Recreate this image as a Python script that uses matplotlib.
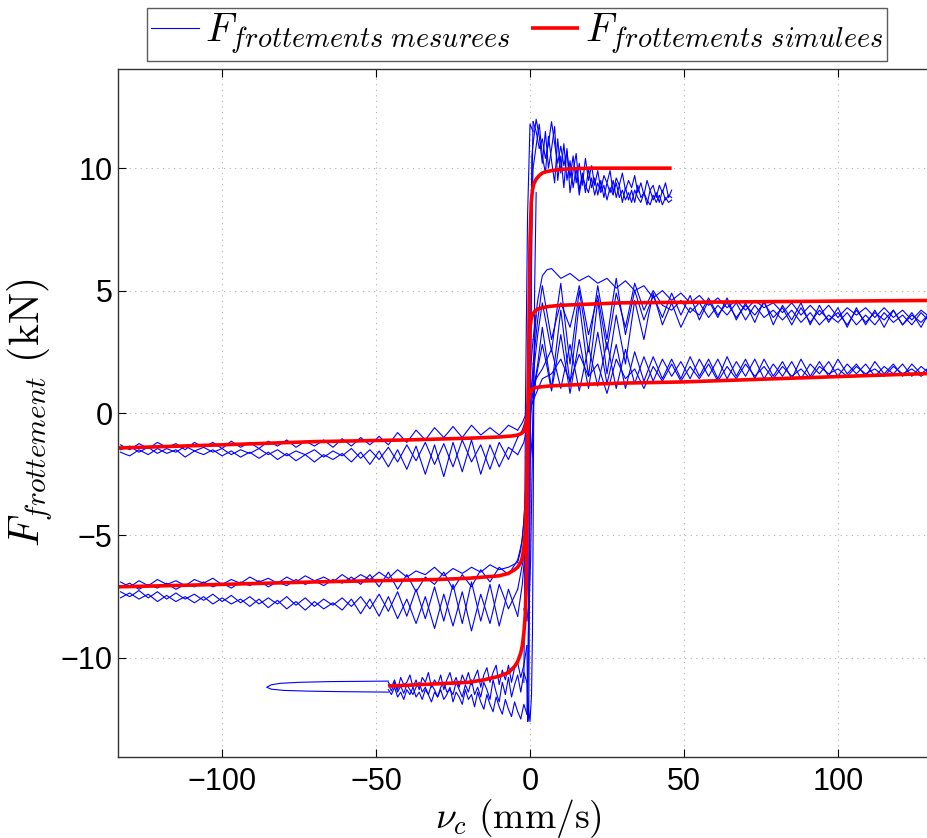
import matplotlib
matplotlib.use("Agg")
import matplotlib.pyplot as plt

plt.rcParams['mathtext.fontset'] = 'cm'
plt.rcParams['font.family'] = ['Liberation Sans', 'DejaVu Sans']

# --- simulated friction (red) ---
sim_x_hi = [-46, -40, -30, -20, -15, -10, -7, -5, -4, -3, -2.5, -2, -1.5, -1.2, -0.9, -0.6,
            -0.3, 0.0, 0.4, 0.8, 1.2, 2, 3, 4, 5, 7, 10, 15, 20, 30, 40, 46]
sim_y_hi = [-11.15, -11.12, -11.06, -11.0, -10.9, -10.75, -10.6, -10.35, -10.15, -9.8, -9.5,
            -9.0, -8.2, -7.0, -4.0, 0.0, 4.0, 7.0, 8.6, 9.1, 9.35, 9.55, 9.7, 9.8, 9.85, 9.9,
            9.95, 9.98, 10.0, 10.0, 10.0, 10.0]
sim_x_mid = [-134, -100, -70, -50, -30, -20, -10, -7, -5, -4, -3, -2.5, -2, -1.5, -1.2, -0.9,
             -0.6, -0.3, 0.0, 0.4, 0.8, 1.5, 2.5, 4, 6, 10, 20, 30, 50, 80, 110, 134]
sim_y_mid = [-7.1, -7.0, -6.9, -6.85, -6.8, -6.75, -6.65, -6.55, -6.4, -6.3, -6.1, -5.9, -5.5,
             -4.8, -3.5, -1.5, 0.5, 2.5, 3.5, 3.85, 4.0, 4.15, 4.25, 4.3, 4.35, 4.4, 4.45, 4.5,
             4.52, 4.55, 4.58, 4.6]
sim_x_low = [-134, -100, -70, -40, -20, -10, -6, -4, -3, -2, -1.5, -1.2, -0.9, -0.6, -0.3,
             0.0, 0.4, 0.8, 1.5, 3, 6, 10, 20, 30, 50, 80, 110, 134]
sim_y_low = [-1.43, -1.3, -1.17, -1.1, -1.03, -0.98, -0.94, -0.9, -0.85, -0.75, -0.6, -0.4,
             -0.1, 0.3, 0.6, 0.8, 0.92, 0.98, 1.03, 1.06, 1.1, 1.13, 1.18, 1.22, 1.27, 1.4,
             1.53, 1.63]

# --- measured friction (blue) ---
# negative velocity, low and mid amplitude tests
neg_x = [-133, -131.5, -130, -128.5, -127, -125.5, -124, -122.5, -121, -119.5, -118, -116.5,
         -115, -113.5, -112, -110.5, -109, -107.5, -106, -104.5, -103, -101.5, -100, -98.5,
         -97, -95.5, -94, -92.5, -91, -89.5, -88, -86.5, -85, -83.5, -82, -80.5, -79, -77.5,
         -76, -74.5, -73, -71.5, -70, -68.5, -67, -65.5, -64, -62.5, -61, -59.5, -58, -56.5,
         -55, -53.5, -52, -50.5, -49, -47.5, -46, -44.5, -43, -41.5, -40, -38.5, -37, -35.5,
         -34, -32.5, -31, -29.5, -28, -26.5, -25, -23.5, -22, -20.5, -19, -17.5, -16, -14.5,
         -13, -11.5, -10, -8.5, -7, -5.5, -4]
neg_low_1 = [-1.3, -1.4, -1.5, -1.38, -1.25, -1.35, -1.45, -1.33, -1.2, -1.3, -1.4, -1.33,
             -1.25, -1.38, -1.5, -1.35, -1.2, -1.3, -1.4, -1.3, -1.2, -1.33, -1.45, -1.3,
             -1.15, -1.28, -1.4, -1.3, -1.2, -1.33, -1.45, -1.3, -1.15, -1.25, -1.35, -1.23,
             -1.1, -1.25, -1.4, -1.28, -1.15, -1.25, -1.35, -1.23, -1.1, -1.25, -1.4, -1.23,
             -1.05, -1.2, -1.35, -1.18, -1.0, -1.15, -1.3, -1.13, -0.95, -1.13, -1.3, -1.05,
             -0.8, -1.0, -1.2, -0.95, -0.7, -0.9, -1.1, -0.85, -0.6, -0.8, -1.0, -0.78,
             -0.55, -0.78, -1.0, -0.75, -0.5, -0.7, -0.9, -0.75, -0.6, -0.75, -0.9, -0.7,
             -0.5, -0.6, -0.7]
neg_low_2 = [-1.5, -1.43, -1.35, -1.48, -1.6, -1.5, -1.4, -1.53, -1.65, -1.55, -1.45, -1.53,
             -1.6, -1.48, -1.35, -1.45, -1.55, -1.48, -1.4, -1.5, -1.6, -1.53, -1.45, -1.58,
             -1.7, -1.6, -1.5, -1.58, -1.65, -1.55, -1.45, -1.58, -1.7, -1.6, -1.5, -1.63,
             -1.75, -1.65, -1.55, -1.63, -1.7, -1.6, -1.5, -1.65, -1.8, -1.68, -1.55, -1.65,
             -1.75, -1.6, -1.45, -1.65, -1.85, -1.68, -1.5, -1.7, -1.9, -1.65, -1.4, -1.7,
             -2.0, -1.65, -1.3, -1.63, -1.95, -1.58, -1.2, -1.65, -2.1, -1.68, -1.25, -1.73,
             -2.2, -1.65, -1.1, -1.55, -2.0, -1.65, -1.3, -1.8, -2.3, -1.75, -1.2, -1.55,
             -1.9, -1.45, -1.0]
neg_low_3 = [-1.6, -1.68, -1.75, -1.63, -1.5, -1.6, -1.7, -1.58, -1.45, -1.55, -1.65, -1.58,
             -1.5, -1.65, -1.8, -1.68, -1.55, -1.63, -1.7, -1.6, -1.5, -1.63, -1.75, -1.65,
             -1.55, -1.68, -1.8, -1.7, -1.6, -1.73, -1.85, -1.73, -1.6, -1.75, -1.9, -1.78,
             -1.65, -1.8, -1.95, -1.83, -1.7, -1.85, -2.0, -1.85, -1.7, -1.8, -1.9, -1.78,
             -1.65, -1.83, -2.0, -1.8, -1.6, -1.85, -2.1, -1.83, -1.55, -1.88, -2.2, -1.85,
             -1.5, -1.9, -2.3, -1.83, -1.35, -1.93, -2.5, -1.9, -1.3, -1.95, -2.6, -1.9,
             -1.2, -1.8, -2.4, -1.75, -1.1, -1.8, -2.5, -1.9, -1.3, -1.75, -2.2, -1.8,
             -1.4, -1.55, -1.7]
neg_mid_1 = [-6.9, -7.0, -7.1, -6.98, -6.85, -6.95, -7.05, -6.93, -6.8, -6.9, -7.0, -6.93,
             -6.85, -6.95, -7.05, -6.93, -6.8, -6.88, -6.95, -6.85, -6.75, -6.88, -7.0, -6.9,
             -6.8, -6.88, -6.95, -6.83, -6.7, -6.8, -6.9, -6.83, -6.75, -6.85, -6.95, -6.83,
             -6.7, -6.8, -6.9, -6.78, -6.65, -6.75, -6.85, -6.78, -6.7, -6.8, -6.9, -6.75,
             -6.6, -6.73, -6.85, -6.73, -6.6, -6.7, -6.8, -6.65, -6.5, -6.63, -6.75, -6.58,
             -6.4, -6.55, -6.7, -6.58, -6.45, -6.53, -6.6, -6.45, -6.3, -6.48, -6.65, -6.5,
             -6.35, -6.45, -6.55, -6.43, -6.3, -6.4, -6.5, -6.35, -6.2, -6.3, -6.4, -6.35,
             -6.3, -6.2, -6.1]
neg_mid_2 = [-7.1, -7.03, -6.95, -7.08, -7.2, -7.1, -7.0, -7.08, -7.15, -7.05, -6.95, -7.08,
             -7.2, -7.1, -7.0, -7.05, -7.1, -7.0, -6.9, -7.0, -7.1, -7.03, -6.95, -7.05,
             -7.15, -7.03, -6.9, -6.98, -7.05, -6.95, -6.85, -6.98, -7.1, -7.0, -6.9, -6.98,
             -7.05, -6.93, -6.8, -6.9, -7.0, -6.93, -6.85, -6.95, -7.05, -6.93, -6.8, -6.88,
             -6.95, -6.83, -6.7, -6.85, -7.0, -6.8, -6.6, -6.85, -7.1, -6.8, -6.5, -6.85,
             -7.2, -6.9, -6.6, -6.95, -7.3, -7.0, -6.7, -6.85, -7.0, -6.75, -6.5, -6.85,
             -7.2, -6.9, -6.6, -6.85, -7.1, -6.75, -6.4, -6.65, -6.9, -6.6, -6.3, -6.45,
             -6.6, -6.3, -6.0]
neg_mid_3 = [-7.3, -7.4, -7.5, -7.38, -7.25, -7.4, -7.55, -7.43, -7.3, -7.45, -7.6, -7.48,
             -7.35, -7.48, -7.6, -7.5, -7.4, -7.53, -7.65, -7.53, -7.4, -7.55, -7.7, -7.58,
             -7.45, -7.6, -7.75, -7.63, -7.5, -7.65, -7.8, -7.68, -7.55, -7.68, -7.8, -7.65,
             -7.5, -7.68, -7.85, -7.7, -7.55, -7.73, -7.9, -7.75, -7.6, -7.73, -7.85, -7.7,
             -7.55, -7.73, -7.9, -7.7, -7.5, -7.75, -8.0, -7.7, -7.4, -7.75, -8.1, -7.7,
             -7.3, -7.8, -8.3, -7.75, -7.2, -7.8, -8.4, -7.75, -7.1, -7.8, -8.5, -7.75,
             -7.0, -7.8, -8.6, -7.75, -6.9, -7.7, -8.5, -7.75, -7.0, -7.85, -8.7, -7.95,
             -7.2, -7.75, -8.3]
neg_mid_4 = [-7.55, -7.45, -7.35, -7.48, -7.6, -7.5, -7.4, -7.55, -7.7, -7.58, -7.45, -7.58,
             -7.7, -7.6, -7.5, -7.63, -7.75, -7.63, -7.5, -7.65, -7.8, -7.68, -7.55, -7.68,
             -7.8, -7.7, -7.6, -7.75, -7.9, -7.75, -7.6, -7.78, -7.95, -7.8, -7.65, -7.83,
             -8.0, -7.85, -7.7, -7.88, -8.05, -7.88, -7.7, -7.85, -8.0, -7.88, -7.75, -7.9,
             -8.05, -7.83, -7.6, -7.9, -8.2, -7.9, -7.6, -7.95, -8.3, -7.9, -7.5, -7.95,
             -8.4, -8.0, -7.6, -8.1, -8.6, -8.05, -7.5, -8.15, -8.8, -8.1, -7.4, -8.05,
             -8.7, -8.0, -7.3, -8.1, -8.9, -8.15, -7.4, -8.0, -8.6, -7.8, -7.0, -7.5,
             -8.0, -7.6, -7.2]

# positive velocity, low and mid amplitude tests
pos_x = [1, 2.5, 4, 5.5, 7, 8.5, 10, 11.5, 13, 14.5, 16, 17.5, 19, 20.5, 22, 23.5, 25, 26.5,
         28, 29.5, 31, 32.5, 34, 35.5, 37, 38.5, 40, 41.5, 43, 44.5, 46, 47.5, 49, 50.5, 52,
         53.5, 55, 56.5, 58, 59.5, 61, 62.5, 64, 65.5, 67, 68.5, 70, 71.5, 73, 74.5, 76,
         77.5, 79, 80.5, 82, 83.5, 85, 86.5, 88, 89.5, 91, 92.5, 94, 95.5, 97, 98.5, 100,
         101.5, 103, 104.5, 106, 107.5, 109, 110.5, 112, 113.5, 115, 116.5, 118, 119.5, 121,
         122.5, 124, 125.5, 127, 128.5, 130, 131.5, 133]
pos_mid_1 = [3.0, 4.6, 5.6, 5.85, 5.9, 5.7, 5.5, 5.6, 5.7, 5.55, 5.4, 5.5, 5.6, 5.45, 5.3,
             5.4, 5.5, 5.3, 5.1, 5.25, 5.4, 5.2, 5.0, 5.1, 5.2, 4.95, 4.7, 4.85, 5.0, 4.8,
             4.6, 4.75, 4.9, 4.7, 4.5, 4.65, 4.8, 4.6, 4.4, 4.55, 4.7, 4.5, 4.3, 4.45, 4.6,
             4.4, 4.2, 4.4, 4.6, 4.45, 4.3, 4.4, 4.5, 4.3, 4.1, 4.3, 4.5, 4.25, 4.0, 4.2, 4.4,
             4.2, 4.0, 4.2, 4.4, 4.15, 3.9, 4.1, 4.3, 4.15, 4.0, 4.15, 4.3, 4.1, 3.9, 4.1,
             4.3, 4.1, 3.9, 4.05, 4.2, 4.0, 3.8, 4.0, 4.2, 4.05, 3.9, 4.0, 4.1]
pos_mid_2 = [1.5, 3.2, 4.5, 3.5, 2.5, 4.0, 5.3, 3.6, 2.0, 3.5, 5.0, 3.8, 2.5, 3.9, 5.2, 4.1,
             3.0, 4.3, 5.5, 4.3, 3.2, 4.1, 5.0, 4.4, 3.8, 4.3, 4.8, 4.35, 3.9, 4.4, 4.9, 4.45,
             4.0, 4.4, 4.8, 4.3, 3.8, 4.2, 4.6, 4.25, 3.9, 4.3, 4.7, 4.25, 3.8, 4.15, 4.5,
             4.1, 3.7, 4.15, 4.6, 4.1, 3.6, 4.0, 4.4, 4.1, 3.8, 4.15, 4.5, 4.05, 3.6, 4.0,
             4.4, 4.05, 3.7, 4.0, 4.3, 3.9, 3.5, 3.9, 4.3, 3.95, 3.6, 3.9, 4.2, 3.85, 3.5,
             3.85, 4.2, 3.9, 3.6, 3.85, 4.1, 3.8, 3.5, 3.85, 4.2, 3.95, 3.7]
pos_mid_3 = [0.8, 2.0, 3.5, 2.2, 1.0, 2.6, 4.2, 2.7, 1.2, 2.8, 4.5, 3.0, 1.5, 3.0, 4.6, 3.1,
             1.6, 2.8, 4.0, 3.0, 2.0, 3.3, 4.6, 3.8, 3.0, 4.0, 4.9, 4.25, 3.6, 4.05, 4.5,
             4.0, 3.5, 3.9, 4.3, 4.15, 4.0, 4.35, 4.7, 4.35, 4.0, 4.25, 4.5, 4.2, 3.9, 4.15,
             4.4, 4.2, 4.0, 4.25, 4.5, 4.2, 3.9, 4.1, 4.3, 3.95, 3.6, 3.95, 4.3, 4.0, 3.7,
             3.95, 4.2, 4.0, 3.8, 3.95, 4.1, 3.85, 3.6, 3.9, 4.2, 3.95, 3.7, 3.9, 4.1, 3.95,
             3.8, 4.0, 4.2, 3.9, 3.6, 3.8, 4.0, 3.85, 3.7, 3.9, 4.1, 3.85, 3.6]
pos_mid_4 = [2.0, 3.8, 5.2, 4.1, 3.0, 3.8, 4.5, 4.0, 3.5, 4.3, 5.2, 4.2, 3.2, 4.0, 4.8, 3.7,
             2.6, 3.7, 4.9, 4.2, 3.5, 4.4, 5.3, 4.75, 4.2, 4.6, 5.0, 4.7, 4.4, 4.3, 4.2, 4.4,
             4.6, 4.35, 4.1, 4.3, 4.5, 4.2, 3.9, 4.15, 4.4, 4.2, 4.0, 4.25, 4.5, 4.15, 3.8,
             4.1, 4.4, 4.15, 3.9, 4.05, 4.2, 4.0, 3.8, 4.0, 4.2, 3.95, 3.7, 3.9, 4.1, 3.85,
             3.6, 3.8, 4.0, 3.85, 3.7, 3.9, 4.1, 3.85, 3.6, 3.8, 4.0, 3.8, 3.6, 3.85, 4.1,
             3.9, 3.7, 3.85, 4.0, 3.8, 3.6, 3.85, 4.1, 3.9, 3.7, 3.8, 3.9]
pos_low_1 = [0.8, 1.8, 2.8, 1.9, 0.9, 2.0, 3.2, 2.0, 0.8, 1.9, 3.0, 2.0, 1.0, 2.2, 3.3, 2.25,
             1.2, 2.0, 2.8, 1.9, 1.0, 1.75, 2.5, 1.9, 1.3, 1.8, 2.3, 1.85, 1.4, 1.8, 2.2,
             1.8, 1.4, 1.85, 2.3, 1.9, 1.5, 1.85, 2.2, 1.8, 1.4, 1.85, 2.3, 1.9, 1.5, 1.85,
             2.2, 1.8, 1.4, 1.8, 2.2, 1.85, 1.5, 1.8, 2.1, 1.75, 1.4, 1.8, 2.2, 1.85, 1.5,
             1.8, 2.1, 1.8, 1.5, 1.85, 2.2, 1.9, 1.6, 1.8, 2.0, 1.75, 1.5, 1.8, 2.1, 1.85,
             1.6, 1.8, 2.0, 1.75, 1.5, 1.75, 2.0, 1.8, 1.6, 1.75, 1.9, 1.8, 1.7]
pos_low_2 = [1.2, 1.5, 1.8, 2.2, 2.6, 1.8, 1.0, 1.9, 2.8, 1.85, 0.9, 1.8, 2.7, 1.9, 1.1, 2.0,
             2.9, 1.95, 1.0, 1.8, 2.6, 1.9, 1.2, 1.75, 2.3, 1.8, 1.3, 1.75, 2.2, 1.85, 1.5,
             1.8, 2.1, 1.75, 1.4, 1.8, 2.2, 1.85, 1.5, 1.85, 2.2, 1.8, 1.4, 1.75, 2.1, 1.8,
             1.5, 1.85, 2.2, 1.8, 1.4, 1.7, 2.0, 1.75, 1.5, 1.8, 2.1, 1.75, 1.4, 1.7, 2.0,
             1.8, 1.6, 1.85, 2.1, 1.8, 1.5, 1.75, 2.0, 1.8, 1.6, 1.8, 2.0, 1.75, 1.5, 1.7,
             1.9, 1.75, 1.6, 1.8, 2.0, 1.75, 1.5, 1.7, 1.9, 1.75, 1.6, 1.7, 1.8]
pos_low_3 = [0.5, 0.95, 1.4, 1.5, 1.6, 1.9, 2.2, 1.75, 1.3, 1.85, 2.4, 1.95, 1.5, 1.75, 2.0,
             1.4, 0.8, 1.5, 2.2, 1.8, 1.4, 1.6, 1.8, 1.4, 1.0, 1.45, 1.9, 1.6, 1.3, 1.65, 2.0,
             1.65, 1.3, 1.6, 1.9, 1.65, 1.4, 1.7, 2.0, 1.65, 1.3, 1.6, 1.9, 1.65, 1.4, 1.7,
             2.0, 1.75, 1.5, 1.7, 1.9, 1.65, 1.4, 1.65, 1.9, 1.7, 1.5, 1.65, 1.8, 1.6, 1.4,
             1.65, 1.9, 1.75, 1.6, 1.7, 1.8, 1.65, 1.5, 1.7, 1.9, 1.75, 1.6, 1.7, 1.8, 1.65,
             1.5, 1.7, 1.9, 1.75, 1.6, 1.7, 1.8, 1.65, 1.5, 1.65, 1.8, 1.7, 1.6]

# high amplitude test, negative branch
hi_neg_x = [-46, -45, -44, -43, -42, -41, -40, -39, -38, -37, -36, -35, -34, -33, -32, -31,
            -30, -29, -28, -27, -26, -25, -24, -23, -22, -21, -20, -19, -18, -17, -16, -15,
            -14, -13, -12, -11, -10, -9, -8, -7, -6, -5, -4, -3, -2, -1]
hi_neg_1 = [-11.0, -11.2, -10.9, -11.3, -10.8, -11.1, -11.0, -10.7, -11.2, -10.9,
            -11.3, -10.8, -11.0, -10.6, -11.2, -10.9, -11.1, -10.7, -11.3, -10.9,
            -10.6, -11.1, -10.8, -11.2, -10.7, -11.0, -10.6, -11.1, -10.8, -10.5,
            -11.2, -10.7, -10.4, -11.0, -10.6, -10.3, -11.1, -10.5, -10.9, -10.3,
            -11.0, -10.4, -10.2, -10.8, -10.3, -9.5]
hi_neg_2 = [-11.3, -11.5, -11.2, -11.6, -11.4, -11.7, -11.3, -11.5, -11.2, -11.6,
            -11.4, -11.7, -11.3, -11.5, -11.8, -11.4, -11.6, -11.3, -11.7, -11.5,
            -11.2, -11.8, -11.4, -11.6, -11.9, -11.3, -11.7, -11.5, -12.0, -11.4,
            -11.8, -12.1, -11.5, -11.9, -12.2, -11.6, -12.0, -12.3, -11.7, -12.1,
            -12.4, -11.8, -12.2, -12.5, -11.9, -12.3]
hi_neg_3 = [-11.1, -11.35, -11.0, -11.4, -11.15, -11.45, -11.1, -11.3, -11.5, -11.2,
            -11.0, -11.4, -11.2, -11.5, -11.1, -11.3, -11.6, -11.2, -11.0, -11.4,
            -11.3, -11.5, -11.0, -11.3, -11.6, -11.1, -11.4, -10.9, -11.5, -11.2,
            -11.6, -11.0, -11.3, -11.7, -10.9, -11.4, -11.8, -11.0, -11.5, -10.8,
            -11.6, -11.1, -10.7, -11.4, -10.6, -11.0]
# thin loop at the start of the high amplitude test
loop_x = [-46, -55, -65, -75, -81, -84, -85.5, -84, -80, -72, -62, -54, -46]
loop_y = [-10.95, -10.96, -10.97, -11.0, -11.04, -11.1, -11.2, -11.28, -11.33, -11.36,
          -11.38, -11.39, -11.4]

# high amplitude test, positive branch
hi_pos_x = [1, 2, 3, 4, 5, 6, 7, 8, 9, 10, 11, 12, 13, 14, 15, 16, 17, 18, 19, 20, 21, 22,
            23, 24, 25, 26, 27, 28, 29, 30, 31, 32, 33, 34, 35, 36, 37, 38, 39, 40, 41, 42,
            43, 44, 45, 46]
hi_pos_1 = [11.9, 11.5, 10.8, 11.2, 10.4, 11.0, 11.9, 11.0, 10.2, 10.9,
            10.1, 10.7, 9.6, 10.5, 9.4, 10.2, 9.3, 10.4, 9.5, 10.1,
            9.3, 9.9, 9.1, 9.7, 9.4, 9.9, 9.0, 9.6, 9.3, 9.8,
            9.1, 9.5, 9.2, 9.7, 9.0, 9.4, 8.9, 9.5, 9.1, 9.3,
            8.8, 9.3, 9.0, 9.4, 8.8, 9.1]
hi_pos_2 = [11.0, 12.0, 11.3, 10.2, 11.5, 10.0, 10.8, 11.7, 9.5, 10.5,
            9.2, 10.8, 9.0, 9.9, 10.6, 9.1, 9.8, 9.0, 10.0, 9.2,
            9.6, 8.9, 9.5, 8.8, 9.4, 9.0, 9.5, 8.8, 9.3, 8.6,
            9.2, 8.7, 9.1, 8.6, 9.3, 8.8, 9.0, 8.5, 9.1, 8.7,
            9.0, 8.6, 9.1, 8.7, 8.9, 8.8]
hi_pos_3 = [10.0, 10.9, 11.8, 10.5, 9.8, 11.3, 10.3, 9.4, 11.2, 9.8,
            11.0, 9.5, 10.3, 9.2, 10.0, 8.9, 9.7, 9.3, 9.0, 9.6,
            8.9, 9.4, 9.0, 9.3, 8.7, 9.2, 8.9, 9.4, 8.8, 9.1,
            8.7, 9.0, 8.6, 9.1, 8.8, 8.6, 9.0, 8.7, 8.5, 8.9,
            8.6, 8.9, 8.5, 8.8, 8.6, 8.7]

# sticking transitions around zero velocity
jump_x = [
    [-4, -3, -2, -1.2, -0.5, 0.3, 1.0],
    [-4, -2.5, -1.5, -0.8, 0.0, 0.6, 1.0],
    [-4, -2.5, -1.2, -0.3, 0.3, 0.7, 1.0],
    [-4, -2.2, -1.0, 0.0, 0.5, 1.0],
    [-4, -2.5, -1.5, -0.5, 0.2, 1.0],
    [-4, -2.5, -1.2, 0.0, 1.0],
    [-4, -2.0, -0.8, 0.2, 1.0],
    [-1, -0.7, -0.4, -0.1, 0.2, 0.6, 1.0],
    [-1, -0.6, -0.2, 0.2, 0.6, 1.0],
    [-1, -0.8, -0.4, 0.0, 0.4, 0.8, 1.0],
    [1.0, 0.0, -0.8, -1.5, -1.8, -2.0],
    [2.0, 1.5, 1.0, 0.6, 0.2, -0.2, -1.0, -2.0],
    [2.0, 1.2, 0.8, 0.4, 0.0, -0.5, -1.5],
    [2.0, 1.5, 1.2, 1.0, 0.8, 0.5, 0.0, -0.5],
]
jump_y = [
    [-6.1, -5.6, -4.5, -2.5, 0.0, 2.0, 3.0],
    [-6.0, -5.2, -3.5, -1.5, 0.5, 1.2, 1.5],
    [-8.3, -7.0, -5.0, -2.0, 0.0, 0.6, 0.8],
    [-7.2, -6.0, -3.5, -0.5, 1.0, 2.0],
    [-0.7, -0.4, -0.1, 0.3, 0.6, 0.8],
    [-1.0, -0.7, -0.2, 0.5, 1.2],
    [-1.7, -1.2, -0.5, 0.2, 0.5],
    [-9.5, -12.6, -12.0, -6.0, 2.0, 9.0, 11.9],
    [-12.3, -10.0, -3.0, 5.0, 10.5, 11.0],
    [-11.0, -12.2, -8.0, -2.0, 5.0, 9.0, 10.0],
    [11.5, 11.8, 8.0, 0.0, -8.0, -11.0],
    [4.0, 3.0, 0.0, -3.0, -6.0, -7.5, -8.5, -8.0],
    [1.5, 0.5, -0.8, -1.5, -2.0, -2.2, -1.8],
    [9.0, 5.0, 0.0, -5.0, -9.0, -11.5, -12.6, -12.0],
]

W, H = 927, 838
fig = plt.figure(figsize=(W / 100, H / 100), dpi=100)
ax = fig.add_axes([118 / W, (H - 757) / H, (942 - 118) / W, (757 - 69) / H])

blue = dict(color='#0000ff', lw=0.8)
for ys in [neg_low_1, neg_low_2, neg_low_3, neg_mid_1, neg_mid_2, neg_mid_3, neg_mid_4]:
    ax.plot(neg_x, ys, **blue)
for ys in [pos_mid_1, pos_mid_2, pos_mid_3, pos_mid_4, pos_low_1, pos_low_2, pos_low_3]:
    ax.plot(pos_x, ys, **blue)
for ys in [hi_neg_1, hi_neg_2, hi_neg_3]:
    ax.plot(hi_neg_x, ys, **blue)
for ys in [hi_pos_1, hi_pos_2, hi_pos_3]:
    ax.plot(hi_pos_x, ys, **blue)
ax.plot(loop_x, loop_y, **blue)
for xs, ys in zip(jump_x, jump_y):
    meas, = ax.plot(xs, ys, **blue)

red = dict(color='#ff0000', lw=2.6, solid_capstyle='butt')
ax.plot(sim_x_low, sim_y_low, **red)
ax.plot(sim_x_mid, sim_y_mid, **red)
sim, = ax.plot(sim_x_hi, sim_y_hi, **red)

ax.set_xlim(-133.8, 133.8)
ax.set_ylim(-14.05, 14.05)
ax.set_xticks([-100, -50, 0, 50, 100])
ax.set_yticks([-10, -5, 0, 5, 10])
ax.grid(True, linestyle=(0, (1, 4)), color='#b0b0b0', lw=0.8)
ax.tick_params(direction='in', top=True, right=True, length=6, labelsize=22)
ax.tick_params(axis='x', pad=7)
ax.tick_params(axis='y', pad=4)
for s in ax.spines.values():
    s.set_linewidth(1.0)
    s.set_color('#333333')

ax.set_xlabel(r'$\nu_c\ (\mathrm{mm/s})$', fontsize=27, va='center')
ax.set_ylabel(r'$F_{frottement}\ (\mathrm{kN})$', fontsize=30, va='center')
ax.xaxis.set_label_coords((518 - 118) / 824, (757 - 818) / 688)
ax.yaxis.set_label_coords((30 - 118) / 824, 0.5)

fig.legend([meas, sim],
           [r'$F_{frottements\ mesurees}$', r'$F_{frottements\ simulees}$'],
           loc='center', bbox_to_anchor=(517 / W, 1 - 34.5 / H), ncol=2,
           fontsize=29, frameon=True, fancybox=False, edgecolor='#333333',
           handlelength=1.2, handletextpad=0.15, columnspacing=0.5, borderpad=0.1,
           borderaxespad=0.0)

fig.savefig('out.png', dpi=100)
